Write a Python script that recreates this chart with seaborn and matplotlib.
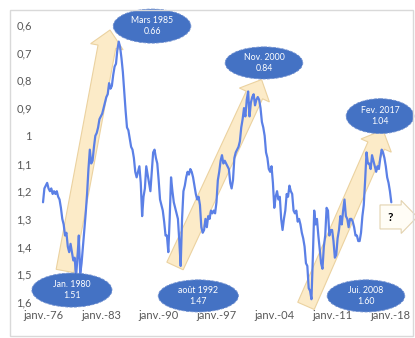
import numpy as np
import pandas as pd
import matplotlib
matplotlib.use("Agg")
import matplotlib.pyplot as plt
import seaborn as sns
from matplotlib.patches import Ellipse, Polygon, Rectangle
from matplotlib.transforms import IdentityTransform

# ---------------- data (bimonthly readings, USD per EUR/ECU) ----------------
start_year = 1976
rate_1970s = [1.24, 1.19, 1.18, 1.17, 1.19, 1.20,
              1.19, 1.21, 1.20, 1.21, 1.20, 1.22,
              1.23, 1.26, 1.30, 1.32, 1.36, 1.35,
              1.40, 1.42, 1.39, 1.42, 1.45, 1.44]
rate_1980s = [1.51, 1.44, 1.36, 1.50, 1.46, 1.40,
              1.34, 1.28, 1.21, 1.12, 1.05, 1.10,
              1.09, 1.04, 1.00, 0.99, 0.97, 0.94,
              0.93, 0.92, 0.90, 0.88, 0.86, 0.85,
              0.81, 0.83, 0.82, 0.78, 0.75, 0.74,
              0.69, 0.66, 0.68, 0.72, 0.77, 0.84,
              0.91, 0.97, 0.98, 1.01, 1.04, 1.05,
              1.08, 1.13, 1.15, 1.13, 1.11, 1.17,
              1.29, 1.22, 1.19, 1.11, 1.14, 1.17,
              1.20, 1.13, 1.06, 1.05, 1.08, 1.10]
rate_1990s = [1.16, 1.23, 1.25, 1.27, 1.31, 1.36,
              1.36, 1.42, 1.30, 1.15, 1.20, 1.24,
              1.26, 1.28, 1.30, 1.38, 1.47, 1.30,
              1.20, 1.18, 1.15, 1.13, 1.14, 1.12,
              1.13, 1.15, 1.18, 1.21, 1.23, 1.22,
              1.25, 1.33, 1.35, 1.34, 1.30, 1.33,
              1.29, 1.30, 1.27, 1.28, 1.27, 1.28,
              1.24, 1.16, 1.13, 1.09, 1.07, 1.10,
              1.09, 1.10, 1.11, 1.12, 1.17, 1.19,
              1.16, 1.08, 1.06, 1.05, 1.04, 1.02]
rate_2000s = [0.97, 0.94, 0.90, 0.93, 0.87, 0.84,
              0.93, 0.88, 0.86, 0.85, 0.89, 0.87,
              0.86, 0.87, 0.90, 0.95, 0.97, 1.00,
              1.06, 1.08, 1.12, 1.13, 1.11, 1.17,
              1.26, 1.22, 1.20, 1.23, 1.22, 1.30,
              1.34, 1.30, 1.27, 1.21, 1.22, 1.18,
              1.20, 1.21, 1.27, 1.28, 1.27, 1.31,
              1.30, 1.32, 1.35, 1.37, 1.40, 1.46,
              1.47, 1.55, 1.56, 1.59, 1.44, 1.27,
              1.32, 1.30, 1.36, 1.41, 1.46, 1.48]
rate_2010s = [1.40, 1.36, 1.26, 1.27, 1.36, 1.34,
              1.34, 1.38, 1.44, 1.43, 1.37, 1.34,
              1.29, 1.32, 1.27, 1.23, 1.29, 1.30,
              1.33, 1.30, 1.30, 1.31, 1.33, 1.36,
              1.36, 1.38, 1.38, 1.35, 1.29, 1.25,
              1.16, 1.06, 1.10, 1.10, 1.12, 1.07,
              1.09, 1.11, 1.13, 1.11, 1.12, 1.08,
              1.05, 1.06, 1.08, 1.11, 1.15, 1.17,
              1.20, 1.24]

tick_years = [1976, 1983, 1990, 1997, 2004, 2011, 2018]
tick_labels = ["janv.-76", "janv.-83", "janv.-90", "janv.-97",
               "janv.-04", "janv.-11", "janv.-18"]
y_ticks = [0.6, 0.7, 0.8, 0.9, 1.0, 1.1, 1.2, 1.3, 1.4, 1.5, 1.6]
y_labels = ["0,6", "0,7", "0,8", "0,9", "1", "1,1", "1,2", "1,3", "1,4", "1,5", "1,6"]

# annotations: (label, value, year centre, value centre, width, height)
bubbles = [("Mars 1985", "0.66", 1989.2, 0.604, 9.4, 0.123),
           ("Nov. 2000", "0.84", 2002.75, 0.737, 9.4, 0.116),
           ("Fev. 2017", "1.04", 2016.8, 0.929, 8.2, 0.126),
           ("Jan. 1980", "1.51", 1979.5, 1.557, 9.7, 0.123),
           ("août 1992", "1.47", 1994.8, 1.578, 9.7, 0.116),
           ("Jui. 2008", "1.60", 2015.1, 1.578, 9.4, 0.116)]
trend_arrows = [((1978.66, 1.488), (1984.11, 0.618)),
                ((1991.98, 1.470), (2002.46, 0.797)),
                ((2007.84, 1.614), (2017.16, 0.979))]

# ---------------- build frame ----------------
values = rate_1970s + rate_1980s + rate_1990s + rate_2000s + rate_2010s
df = pd.DataFrame({"year": start_year + np.arange(len(values)) / 6.0,
                   "rate": values})

sns.set_theme(style="white")
plt.rcParams["font.family"] = ["Lato", "DejaVu Sans"]

W, H = 415, 338
fig = plt.figure(figsize=(W / 100, H / 100), dpi=100)
fig.patch.set_facecolor("white")
ax = fig.add_axes([36 / W, 1 - 302 / H, (400 - 36) / W, (302 - 25) / H])
ax.set_xlim(1975.15, 2019.22)
ax.set_ylim(1.6, 0.6)

# border of the chart area
fig.patches.append(Rectangle((10 / W, 1 - 336 / H), 403 / W, 326 / H,
                             transform=fig.transFigure, fill=False,
                             edgecolor="#D9D9D9", linewidth=1.0))


def block_arrow(ax, tail, tip, shaft=18, head=33, head_len=17, **kw):
    t = ax.transData.transform(tail)
    p = ax.transData.transform(tip)
    u = (p - t) / np.hypot(*(p - t))
    n = np.array([-u[1], u[0]])
    b = p - u * head_len
    pts = [t + n * shaft / 2, b + n * shaft / 2, b + n * head / 2, p,
           b - n * head / 2, b - n * shaft / 2, t - n * shaft / 2]
    poly = Polygon(pts, closed=True, transform=IdentityTransform(),
                   clip_on=False, **kw)
    ax.add_artist(poly)
    return poly


for tail, tip in trend_arrows:
    block_arrow(ax, tail, tip, facecolor="#FCEBC8", edgecolor="#EBD2A0",
                linewidth=0.8, zorder=1)

sns.lineplot(data=df, x="year", y="rate", ax=ax, color="#5B80E6",
             linewidth=1.6, zorder=3)

# "?" box arrow
block_arrow(ax, (2016.8, 1.293), (2021.3, 1.293), shaft=24, head=33,
            head_len=16, facecolor="#FFFDF6", edgecolor="#E3D3B0",
            linewidth=0.8, zorder=6)
ax.text(2018.0, 1.296, "?", ha="center", va="center", fontsize=8.5,
        fontweight="bold", color="black", zorder=7, clip_on=False)

for lab, val, xc, yc, w, h in bubbles:
    ax.add_patch(Ellipse((xc, yc), w, h, facecolor="#4472C4",
                         edgecolor="#6F8FD0", linewidth=0.6, linestyle="--",
                         clip_on=False, zorder=5))
    ax.text(xc, yc, f"{lab}\n{val}", ha="center", va="center", fontsize=6.3,
            color="white", linespacing=1.3, zorder=6, clip_on=False)

ax.set_xticks(tick_years)
ax.set_xticklabels(tick_labels)
ax.set_yticks(y_ticks)
ax.set_yticklabels(y_labels)
ax.tick_params(axis="both", length=0, labelsize=8, colors="#595959")
ax.tick_params(axis="y", pad=3)
ax.tick_params(axis="x", pad=6)
ax.set_xlabel("")
ax.set_ylabel("")
for s in ax.spines.values():
    s.set_visible(False)
ax.grid(False)

fig.savefig("out.png", dpi=100)
